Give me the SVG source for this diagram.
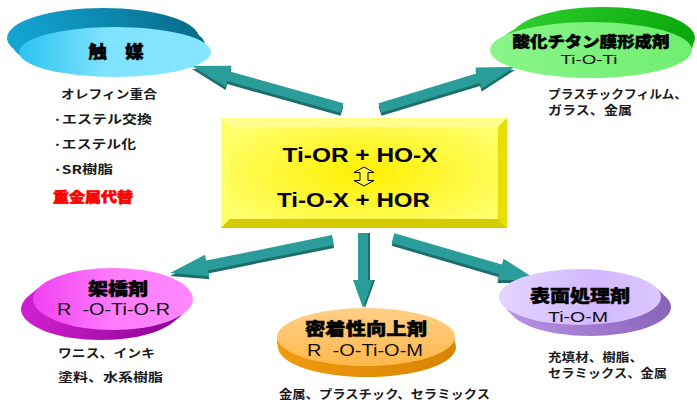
<svg xmlns="http://www.w3.org/2000/svg" width="697" height="405" viewBox="0 0 697 405">
<defs>
  <linearGradient id="cyanTop" x1="0" y1="0" x2="1" y2="0">
    <stop offset="0" stop-color="#2cc3f0"/><stop offset="0.45" stop-color="#7fe2ff"/><stop offset="1" stop-color="#86e6ff"/>
  </linearGradient>
  <linearGradient id="cyanSide" x1="0" y1="0" x2="1" y2="0">
    <stop offset="0" stop-color="#14a6d4"/><stop offset="1" stop-color="#066a88"/>
  </linearGradient>
  <linearGradient id="greenTop" x1="0" y1="0" x2="1" y2="0">
    <stop offset="0" stop-color="#8af58a"/><stop offset="1" stop-color="#6fee6f"/>
  </linearGradient>
  <linearGradient id="greenSide" x1="0" y1="0" x2="1" y2="0">
    <stop offset="0" stop-color="#30d030"/><stop offset="1" stop-color="#0aa80a"/>
  </linearGradient>
  <linearGradient id="pinkTop" x1="0" y1="0" x2="1" y2="0">
    <stop offset="0" stop-color="#f040f0"/><stop offset="0.5" stop-color="#ff7cff"/><stop offset="1" stop-color="#ff88ff"/>
  </linearGradient>
  <linearGradient id="pinkSide" x1="0" y1="0" x2="1" y2="0">
    <stop offset="0" stop-color="#d020d0"/><stop offset="1" stop-color="#8a0090"/>
  </linearGradient>
  <linearGradient id="orangeTop" x1="0" y1="0" x2="0" y2="1">
    <stop offset="0" stop-color="#ffcf88"/><stop offset="1" stop-color="#ffb84a"/>
  </linearGradient>
  <linearGradient id="orangeSide" x1="0" y1="0" x2="1" y2="0">
    <stop offset="0" stop-color="#f09a10"/><stop offset="1" stop-color="#d88400"/>
  </linearGradient>
  <linearGradient id="purpleTop" x1="0" y1="0" x2="1" y2="0">
    <stop offset="0" stop-color="#e4d4ff"/><stop offset="0.6" stop-color="#d2b8ff"/><stop offset="1" stop-color="#dcc8ff"/>
  </linearGradient>
  <linearGradient id="purpleSide" x1="0" y1="0" x2="1" y2="0">
    <stop offset="0" stop-color="#b894e8"/><stop offset="1" stop-color="#8a64b8"/>
  </linearGradient>
  <radialGradient id="yellowFace" cx="0.5" cy="0.5" r="0.6">
    <stop offset="0" stop-color="#fff000"/><stop offset="1" stop-color="#ffff70"/>
  </radialGradient>
  <style>
    .arrow { fill: #2a9c99; }
    .arrowShade { fill: #1c6e6c; }
    .title { font-family: "Noto Sans CJK JP", "Noto Sans", sans-serif; font-weight: 900; fill: #000; stroke: #000; stroke-width: 0.5; text-anchor: middle; }
    .sub { font-family: "Liberation Sans", Arial, sans-serif; fill: #111; text-anchor: middle; }
    .list { font-family: "Noto Sans CJK JP", "Noto Sans", sans-serif; font-size: 12px; font-weight: bold; fill: #1a1a1a; }
    .formula { font-family: "Liberation Sans", Arial, sans-serif; font-weight: bold; font-size: 20px; fill: #000; text-anchor: middle; }
  </style>
</defs>
<rect width="697" height="405" fill="#ffffff"/>

<g id="connectors">
  <polygon class="arrowShade" transform="translate(0,3)" points="343.4,103.2 229.9,71.5 231.6,65.7 192,66 225.6,86.9 227.3,81.1 340.6,112.8"/>
  <polygon class="arrow" points="343.4,103.2 229.9,71.5 231.6,65.7 192,66 225.6,86.9 227.3,81.1 340.6,112.8"/>
  <polygon class="arrowShade" transform="translate(0,3)" points="378.5,103.2 477.1,73.3 475.4,67.6 515,67 481.8,88.6 480,82.9 381.5,112.8"/>
  <polygon class="arrow" points="378.5,103.2 477.1,73.3 475.4,67.6 515,67 481.8,88.6 480,82.9 381.5,112.8"/>
  <polygon class="arrowShade" transform="translate(0,3)" points="334,244.9 208.2,270.4 209.4,276.3 170,273 205,254.7 206.2,260.6 332,235.1"/>
  <polygon class="arrow" points="334,244.9 208.2,270.4 209.4,276.3 170,273 205,254.7 206.2,260.6 332,235.1"/>
  <polygon class="arrowShade" transform="translate(2,0)" points="358,233 358,280 353,280 363,308 373,280 368,280 368,233"/>
  <polygon class="arrow" points="358,233 358,280 353,280 363,308 373,280 368,280 368,233"/>
  <polygon class="arrowShade" transform="translate(0,3)" points="391.6,242.8 499.1,274.2 497.4,280 537,280 503.6,258.8 501.9,264.6 394.4,233.2"/>
  <polygon class="arrow" points="391.6,242.8 499.1,274.2 497.4,280 537,280 503.6,258.8 501.9,264.6 394.4,233.2"/>
</g>

<g id="center">
  <rect x="221" y="118" width="286" height="110" fill="url(#yellowFace)"/>
  <polygon points="221,118 507,118 498,127 230,127" fill="#ffff8c"/>
  <polygon points="221,118 230,127 230,219 221,228" fill="#ffff66"/>
  <polygon points="221,228 230,219 498,219 507,228" fill="#d4cc00"/>
  <polygon points="507,118 507,228 498,219 498,127" fill="#e6e000"/>
  <text class="formula" x="360" y="162" textLength="155" lengthAdjust="spacingAndGlyphs">Ti-OR + HO-X</text>
  <path d="M364,167 L374,172.5 L368,172.5 L368,180.5 L374,180.5 L364,186 L354,180.5 L360,180.5 L360,172.5 L354,172.5 Z" fill="#fff44a" stroke="#000" stroke-width="1"/>
  <text class="formula" x="353.5" y="207" textLength="153" lengthAdjust="spacingAndGlyphs">Ti-O-X + HOR</text>
</g>

<g id="catalyst">
  <ellipse cx="103" cy="38" rx="96" ry="30" fill="url(#cyanSide)"/>
  <ellipse cx="109" cy="45" rx="96" ry="28" fill="url(#cyanSide)"/>
  <ellipse cx="115" cy="52" rx="96" ry="25" fill="url(#cyanTop)"/>
  <text class="title" x="116" y="58" font-size="17" textLength="55" lengthAdjust="spacingAndGlyphs">触　媒</text>
  <text class="list" x="61" y="99" textLength="96" lengthAdjust="spacingAndGlyphs">オレフィン重合</text>
  <text class="list" x="53" y="124" textLength="99" lengthAdjust="spacingAndGlyphs">·エステル交換</text>
  <text class="list" x="53" y="149" textLength="83" lengthAdjust="spacingAndGlyphs">·エステル化</text>
  <text class="list" x="53" y="174" textLength="60" lengthAdjust="spacingAndGlyphs">·SR樹脂</text>
  <text x="53" y="202" font-family="'Noto Sans CJK JP', sans-serif" font-size="14" font-weight="900" fill="#ff0000" stroke="#ff0000" stroke-width="0.6" textLength="80" lengthAdjust="spacingAndGlyphs">重金属代替</text>
</g>

<g id="tio2film">
  <ellipse cx="603" cy="38" rx="92" ry="31" fill="url(#greenSide)"/>
  <ellipse cx="597" cy="44" rx="96" ry="29" fill="url(#greenSide)"/>
  <ellipse cx="591" cy="50" rx="101" ry="28" fill="url(#greenTop)"/>
  <text class="title" x="591" y="47" font-size="15" textLength="157" lengthAdjust="spacingAndGlyphs">酸化チタン膜形成剤</text>
  <text class="sub" x="589" y="64" font-size="13" textLength="57" lengthAdjust="spacingAndGlyphs">Ti-O-Ti</text>
  <text class="list" x="548" y="99" textLength="139" lengthAdjust="spacingAndGlyphs">プラスチックフィルム、</text>
  <text class="list" x="548" y="115" textLength="84" lengthAdjust="spacingAndGlyphs">ガラス、金属</text>
</g>

<g id="crosslinker">
  <ellipse cx="101" cy="309" rx="80" ry="31" fill="url(#pinkSide)"/>
  <ellipse cx="107" cy="304" rx="80" ry="31" fill="url(#pinkSide)"/>
  <ellipse cx="113" cy="299" rx="80" ry="31" fill="url(#pinkTop)"/>
  <text class="title" x="118" y="295" font-size="17" textLength="60" lengthAdjust="spacingAndGlyphs">架橋剤</text>
  <text class="sub" x="113.5" y="315" font-size="16" xml:space="preserve" textLength="113" lengthAdjust="spacingAndGlyphs">R  -O-Ti-O-R</text>
  <text class="list" x="58" y="358" textLength="97" lengthAdjust="spacingAndGlyphs">ワニス、インキ</text>
  <text class="list" x="58" y="382" textLength="105" lengthAdjust="spacingAndGlyphs">塗料、水系樹脂</text>
</g>

<g id="adhesion">
  <ellipse cx="367" cy="347" rx="89" ry="30" fill="url(#orangeSide)"/>
  <ellipse cx="366" cy="342" rx="89" ry="30" fill="url(#orangeSide)"/>
  <ellipse cx="366" cy="337" rx="89" ry="29" fill="url(#orangeTop)"/>
  <text class="title" x="366" y="335" font-size="17" textLength="122" lengthAdjust="spacingAndGlyphs">密着性向上剤</text>
  <text class="sub" x="365" y="356" font-size="16" xml:space="preserve" textLength="116" lengthAdjust="spacingAndGlyphs">R  -O-Ti-O-M</text>
  <text class="list" x="279" y="399" textLength="211" lengthAdjust="spacingAndGlyphs">金属、プラスチック、セラミックス</text>
</g>

<g id="surface">
  <ellipse cx="590" cy="307" rx="81" ry="29" fill="url(#purpleSide)"/>
  <ellipse cx="585" cy="302" rx="81" ry="29" fill="url(#purpleSide)"/>
  <ellipse cx="580" cy="297" rx="81" ry="28" fill="url(#purpleTop)"/>
  <text class="title" x="580" y="302" font-size="17" textLength="100" lengthAdjust="spacingAndGlyphs">表面処理剤</text>
  <text class="sub" x="578" y="322" font-size="15" textLength="60" lengthAdjust="spacingAndGlyphs">Ti-O-M</text>
  <text class="list" x="548" y="362" textLength="95" lengthAdjust="spacingAndGlyphs">充填材、樹脂、</text>
  <text class="list" x="548" y="378" textLength="119" lengthAdjust="spacingAndGlyphs">セラミックス、金属</text>
</g>
</svg>
